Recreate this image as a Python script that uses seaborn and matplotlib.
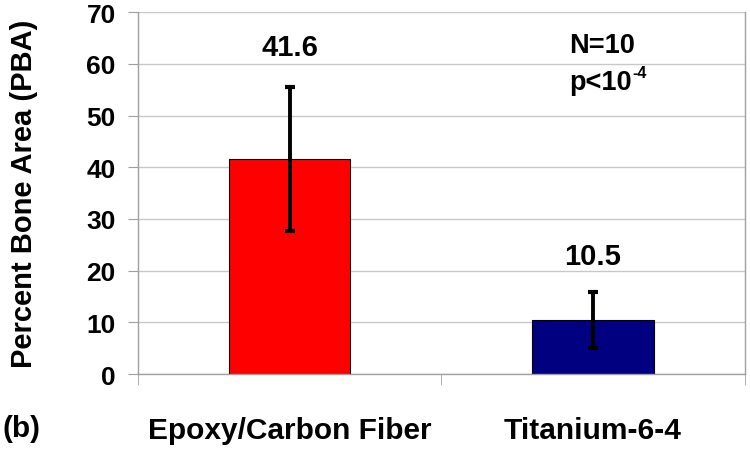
import matplotlib
matplotlib.use("Agg")
import matplotlib.pyplot as plt
import seaborn as sns
import pandas as pd

# --- data ---
materials = ["Epoxy/Carbon Fiber", "Titanium-6-4"]
pba_mean = [41.6, 10.5]
pba_err = [13.9, 5.4]
bar_colors = ["#FF0000", "#000080"]
value_labels = ["41.6", "10.5"]
note_lines = ["N=10", "p<10", "-4"]

df = pd.DataFrame({"material": materials, "pba": pba_mean})

sns.set_style("white")
plt.rcParams["font.family"] = ["Liberation Sans", "DejaVu Sans"]
plt.rcParams["font.weight"] = "bold"
plt.rcParams["text.color"] = "black"
plt.rcParams["axes.labelcolor"] = "black"

fig = plt.figure(figsize=(7.5, 4.52), dpi=100)
ax = fig.add_axes([0.184, 0.170, 0.809, 0.801])

sns.barplot(data=df, x="material", y="pba", hue="material", palette=bar_colors,
            saturation=1, width=0.4, edgecolor="black", linewidth=0.8,
            errorbar=None, legend=False, ax=ax, zorder=2)

# error bars
ax.errorbar(range(len(materials)), pba_mean, yerr=pba_err, fmt="none",
            ecolor="black", elinewidth=2.8, capsize=3.5, capthick=3, zorder=3)

# value labels above bars
ax.text(0, 63.2, value_labels[0], ha="center", va="center", fontsize=21, fontweight="bold")
ax.text(1, 22.8, value_labels[1], ha="center", va="center", fontsize=21, fontweight="bold")

# N / p annotation
ax.text(0.92, 63.6, note_lines[0], ha="left", va="center", fontsize=19.5, fontweight="bold")
p_txt = ax.text(0.92, 56.5, note_lines[1], ha="left", va="center", fontsize=19.5, fontweight="bold")
ax.annotate(note_lines[2], xy=(1.0, 1.0), xycoords=p_txt, xytext=(0.5, 3),
            textcoords="offset points", ha="left", va="top", fontsize=11.5, fontweight="bold")

# axes styling
ax.set_ylim(0, 70)
ax.set_xlim(-0.5, 1.5)
ax.set_yticks(range(0, 71, 10))
ax.yaxis.grid(True, color="#C8C8C8", linewidth=1)
ax.set_axisbelow(True)
for side in ["left", "right", "bottom"]:
    ax.spines[side].set_color("#A0A0A0")
    ax.spines[side].set_linewidth(1)
ax.spines["top"].set_visible(False)

ax.tick_params(axis="y", direction="out", length=7, color="#A0A0A0",
               labelcolor="black", labelsize=19, pad=9, left=True)
for lab in ax.get_yticklabels():
    lab.set_fontweight("bold")

ax.set_xticks([0, 1])
ax.set_xticklabels(materials, fontsize=21.5, fontweight="bold")
ax.tick_params(axis="x", which="major", length=0, pad=30, labelcolor="black")
ax.set_xticks([-0.5, 0.5, 1.5], minor=True)
ax.tick_params(axis="x", which="minor", direction="out", length=8, color="#A0A0A0", bottom=True)

ax.set_xlabel("")
ax.set_ylabel("Percent Bone Area (PBA)", fontsize=21, fontweight="bold")
ax.yaxis.set_label_coords(-0.165, 0.5)

fig.text(0.003, 0.05, "(b)", fontsize=21.5, fontweight="bold", ha="left", va="center")

fig.savefig("out.png", dpi=100)
